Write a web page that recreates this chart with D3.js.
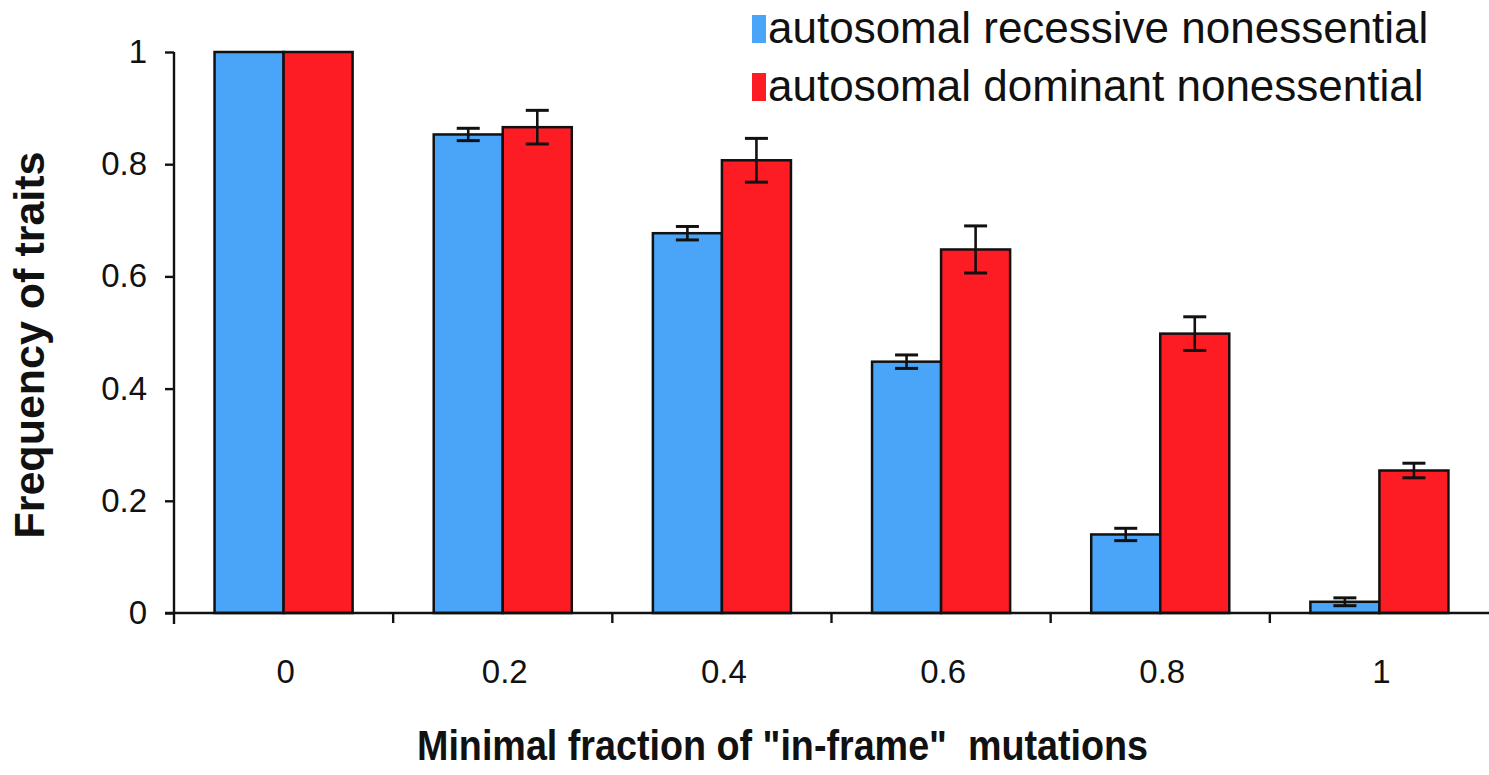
<!DOCTYPE html>
<html>
<head>
<meta charset="utf-8">
<script src="https://cdn.jsdelivr.net/npm/d3@7"></script>
<style>
  html, body { margin: 0; padding: 0; background: #fff; }
  svg { display: block; }
  text { font-family: "Liberation Sans", Arial, Helvetica, sans-serif; fill: #111; }
</style>
</head>
<body>
<svg id="chart" width="1489" height="775"></svg>
<script>
const categories = ["0", "0.2", "0.4", "0.6", "0.8", "1"];
const seriesNames = ["autosomal recessive nonessential", "autosomal dominant nonessential"];
const recessive = [1.0, 0.853, 0.677, 0.448, 0.140, 0.020];
const recessiveErr = [0, 0.011, 0.012, 0.012, 0.011, 0.007];
const dominant = [1.0, 0.866, 0.807, 0.648, 0.498, 0.254];
const dominantErr = [0, 0.030, 0.039, 0.042, 0.030, 0.013];
const yTicks = [0, 0.2, 0.4, 0.6, 0.8, 1];
const yTickLabels = ["0", "0.2", "0.4", "0.6", "0.8", "1"];
const colors = ["#4aa4f8", "#fd1c24"];

const svg = d3.select("#chart");
const mLeft = 174, mRight = 1489, mTop = 52, mBottom = 613;

const x = d3.scaleBand().domain(categories).range([mLeft, mRight]).padding(0);
const y = d3.scaleLinear().domain([0, 1]).range([mBottom, mTop]);
const barW = x.bandwidth() * 0.315;

const series = [
  { name: seriesNames[0], values: recessive, errs: recessiveErr, color: colors[0], offset: -1 },
  { name: seriesNames[1], values: dominant, errs: dominantErr, color: colors[1], offset: 0 }
];

// bars
series.forEach(s => {
  const g = svg.append("g");
  g.selectAll("rect").data(categories).enter().append("rect")
    .attr("x", (c) => x(c) + x.bandwidth() / 2 + s.offset * barW)
    .attr("y", (c, i) => y(s.values[i]))
    .attr("width", barW)
    .attr("height", (c, i) => y(0) - y(s.values[i]))
    .attr("fill", s.color)
    .attr("stroke", "#111")
    .attr("stroke-width", 2.5);
});

// error bars
series.forEach(s => {
  const g = svg.append("g").attr("stroke", "#111").attr("stroke-width", 2.6);
  categories.forEach((c, i) => {
    const e = s.errs[i];
    if (!e) return;
    const cx = x(c) + x.bandwidth() / 2 + s.offset * barW + barW / 2;
    const y1 = y(s.values[i] + e), y2 = y(s.values[i] - e);
    g.append("line").attr("x1", cx).attr("x2", cx).attr("y1", y1).attr("y2", y2);
    g.append("line").attr("x1", cx - 11.5).attr("x2", cx + 11.5).attr("y1", y1).attr("y2", y1).attr("stroke-width", 3);
    g.append("line").attr("x1", cx - 11.5).attr("x2", cx + 11.5).attr("y1", y2).attr("y2", y2).attr("stroke-width", 3);
  });
});

// y axis
const yAxis = d3.axisLeft(y).tickValues(yTicks).tickFormat((d, i) => yTickLabels[i]).tickSize(9).tickPadding(18);
const yg = svg.append("g").attr("transform", `translate(${mLeft},0)`).call(yAxis);
yg.select(".domain").remove();
yg.append("line").attr("x1", 0).attr("x2", 0).attr("y1", mTop).attr("y2", mBottom + 11)
  .attr("stroke", "#111").attr("stroke-width", 2.4);
yg.selectAll(".tick line").attr("stroke", "#111").attr("stroke-width", 2.4);
yg.selectAll(".tick text").attr("font-size", 33).attr("fill", "#111")
  .attr("font-family", "'Liberation Sans', Arial, sans-serif");

// x axis
const xg = svg.append("g").attr("transform", `translate(0,${mBottom})`);
xg.append("line").attr("x1", mLeft - 9).attr("x2", mRight).attr("y1", 0).attr("y2", 0)
  .attr("stroke", "#111").attr("stroke-width", 2.4);
xg.selectAll("line.sep").data(categories.slice(1)).enter().append("line")
  .attr("class", "sep")
  .attr("x1", c => x(c)).attr("x2", c => x(c)).attr("y1", 0).attr("y2", 10)
  .attr("stroke", "#111").attr("stroke-width", 2.4);
xg.selectAll("text").data(categories).enter().append("text")
  .attr("x", c => x(c) + x.bandwidth() / 2 + 2)
  .attr("y", 70)
  .attr("text-anchor", "middle")
  .attr("font-size", 33)
  .text(c => c);

// axis titles
svg.append("text")
  .attr("transform", "translate(44,345) rotate(-90)")
  .attr("text-anchor", "middle")
  .attr("font-size", 43)
  .attr("font-weight", "bold")
  .text("Frequency of traits");

svg.append("text")
  .attr("x", 417).attr("y", 760)
  .attr("text-anchor", "start")
  .attr("font-size", 43)
  .attr("font-weight", "bold")
  .attr("textLength", 731)
  .attr("lengthAdjust", "spacingAndGlyphs")
  .attr("xml:space", "preserve")
  .style("white-space", "pre")
  .text('Minimal fraction of "in-frame"  mutations');

// legend
const lg = svg.append("g").attr("transform", "translate(752,0)");
series.forEach((s, i) => {
  lg.append("rect").attr("x", 0).attr("y", 15 + i * 58).attr("width", 14).attr("height", 28)
    .attr("fill", s.color);
  lg.append("text").attr("x", 16).attr("y", 43 + i * 58)
    .attr("font-size", 44)
    .text(s.name);
});
</script>
</body>
</html>
